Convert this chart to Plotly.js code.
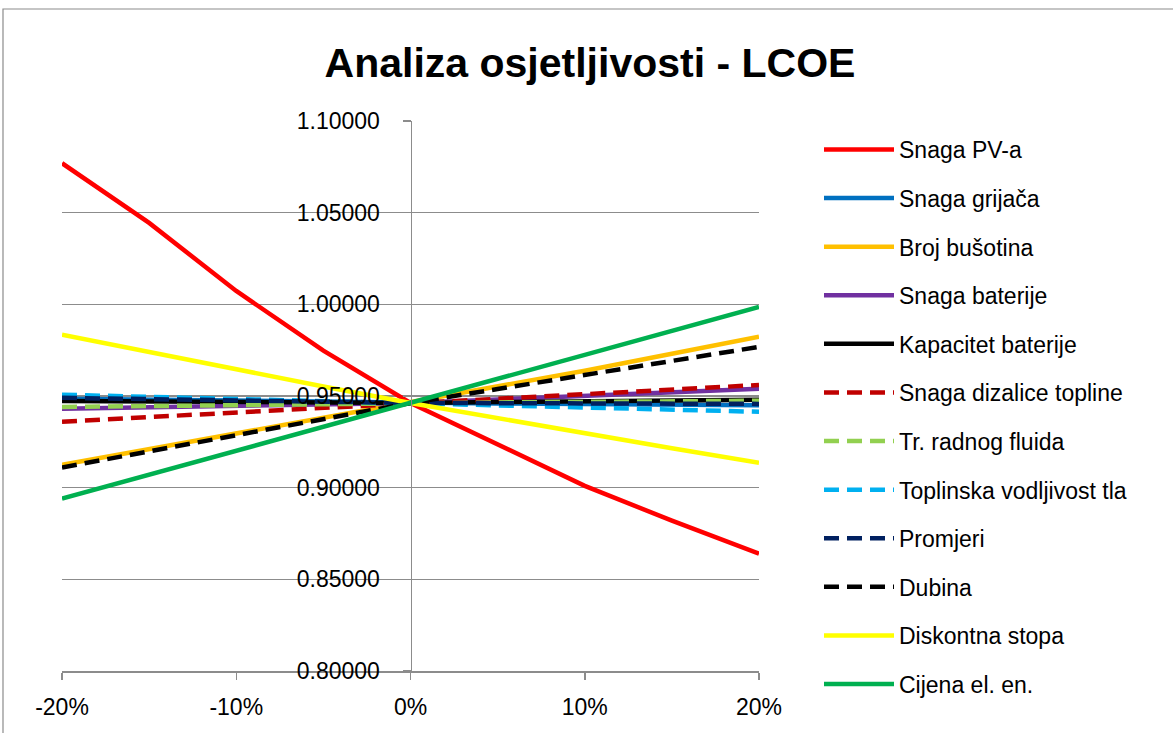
<!DOCTYPE html>
<html>
<head>
<meta charset="utf-8">
<script src="https://cdn.plot.ly/plotly-3.0.1.min.js"></script>
<style>html,body{margin:0;padding:0;background:#fff;}#chart{width:1173px;height:733px;}</style>
</head>
<body>
<div id="chart"></div>
<script>
// Percentage change of each parameter
const pct = [-0.20, -0.15, -0.10, -0.05, 0, 0.05, 0.10, 0.15, 0.20];

// LCOE for each series
const snagaPV       = [1.0770, 1.0444, 1.0073, 0.9747, 0.9462, 0.9236, 0.9010, 0.8820, 0.8640];
const snagaGrijaca  = [0.9485, 0.9479, 0.9474, 0.9468, 0.9462, 0.9459, 0.9456, 0.9453, 0.9450];
const brojBusotina  = [0.9125, 0.9210, 0.9295, 0.9380, 0.9462, 0.9550, 0.9638, 0.9730, 0.9823];
const snagaBaterije = [0.9430, 0.9438, 0.9446, 0.9454, 0.9462, 0.9481, 0.9500, 0.9520, 0.9540];
const kapacitetBat  = [0.9473, 0.9470, 0.9467, 0.9464, 0.9462, 0.9467, 0.9472, 0.9476, 0.9480];
const snagaDizalice = [0.9360, 0.9385, 0.9410, 0.9436, 0.9462, 0.9486, 0.9510, 0.9535, 0.9560];
const trFluida      = [0.9440, 0.9446, 0.9451, 0.9456, 0.9462, 0.9465, 0.9468, 0.9471, 0.9474];
const toplinska     = [0.9507, 0.9496, 0.9485, 0.9473, 0.9462, 0.9450, 0.9438, 0.9426, 0.9414];
const promjeri      = [0.9490, 0.9483, 0.9476, 0.9469, 0.9462, 0.9461, 0.9460, 0.9458, 0.9457];
const dubina        = [0.9110, 0.9198, 0.9286, 0.9374, 0.9462, 0.9538, 0.9615, 0.9692, 0.9768];
const diskontna     = [0.9834, 0.9738, 0.9644, 0.9552, 0.9462, 0.9378, 0.9296, 0.9215, 0.9136];
const cijena        = [0.8940, 0.9070, 0.9200, 0.9330, 0.9462, 0.9593, 0.9724, 0.9855, 0.9986];

const seriesNames = ["Snaga PV-a", "Snaga grijača", "Broj bušotina", "Snaga baterije",
  "Kapacitet baterije", "Snaga dizalice topline", "Tr. radnog fluida",
  "Toplinska vodljivost tla", "Promjeri", "Dubina", "Diskontna stopa", "Cijena el. en."];
const seriesValues = [snagaPV, snagaGrijaca, brojBusotina, snagaBaterije, kapacitetBat,
  snagaDizalice, trFluida, toplinska, promjeri, dubina, diskontna, cijena];
const seriesColors = ["#FF0000", "#0070C0", "#FFC000", "#7030A0", "#000000", "#C00000",
  "#92D050", "#00B0F0", "#002060", "#000000", "#FFFF00", "#00B050"];
const seriesDashed = [false, false, false, false, false, true, true, true, true, true, false, false];

const yTicks = [0.80, 0.85, 0.90, 0.95, 1.00, 1.05, 1.10];
const xTicks = [-0.20, -0.10, 0, 0.10, 0.20];
const xTickLabels = ["-20%", "-10%", "0%", "10%", "20%"];

const FONT = "'Liberation Sans', Arial, sans-serif";

const traces = seriesNames.map((n, i) => ({
  type: "scatter",
  mode: "lines",
  name: n,
  x: pct,
  y: seriesValues[i],
  legendgroup: "g" + i,
  line: {color: seriesColors[i], width: 4.5, dash: seriesDashed[i] ? "15px,8px" : "solid"},
  hoverinfo: "skip"
}));

const layout = {
  width: 1173,
  height: 733,
  paper_bgcolor: "#ffffff",
  plot_bgcolor: "#ffffff",
  margin: {l: 62, r: 414, t: 121, b: 62},
  font: {family: FONT, size: 23, color: "#000000"},
  title: {
    text: "Analiza osjetljivosti - LCOE",
    font: {family: FONT, size: 41, color: "#000000", weight: "bold"},
    x: 590 / 1173, xref: "container", xanchor: "center",
    y: 1 - 63 / 733, yref: "container", yanchor: "middle"
  },
  xaxis: {
    range: [-0.2, 0.2],
    tickvals: xTicks,
    ticktext: xTickLabels,
    showgrid: false,
    zeroline: false,
    showline: true,
    linecolor: "#8c8c8c",
    linewidth: 1.5,
    ticks: "outside",
    ticklen: 7,
    tickcolor: "#8c8c8c",
    tickwidth: 1.5,
    ticklabelstandoff: 8,
    tickfont: {family: FONT, size: 23, color: "#000000"},
    fixedrange: true
  },
  yaxis: {
    range: [0.8, 1.1],
    tickvals: yTicks,
    tickformat: ".5f",
    anchor: "free",
    position: 0.5,
    showgrid: true,
    gridcolor: "#8c8c8c",
    gridwidth: 1.5,
    zeroline: false,
    showline: true,
    linecolor: "#8c8c8c",
    linewidth: 1.5,
    ticks: "outside",
    ticklen: 8,
    tickcolor: "#8c8c8c",
    tickwidth: 1.5,
    ticklabelstandoff: 18,
    tickfont: {family: FONT, size: 23, color: "#000000"},
    fixedrange: true
  },
  legend: {
    x: (819 - 62) / 697,
    xanchor: "left",
    y: 1 - (128 - 121) / 550,
    yanchor: "top",
    maxheight: 720,
    traceorder: "grouped",
    tracegroupgap: 15.7,
    itemwidth: 70,
    bgcolor: "rgba(0,0,0,0)",
    font: {family: FONT, size: 23, color: "#000000"}
  },
  shapes: [{
    type: "rect", xref: "paper", yref: "paper",
    x0: (3 - 62) / 697, x1: 1.8,
    y0: -0.2, y1: 1 + (121 - 9) / 550,
    line: {color: "#8c8c8c", width: 1.2},
    fillcolor: "rgba(0,0,0,0)",
    layer: "below"
  }],
  showlegend: true
};

Plotly.newPlot("chart", traces, layout, {staticPlot: true, displayModeBar: false});
</script>
</body>
</html>
